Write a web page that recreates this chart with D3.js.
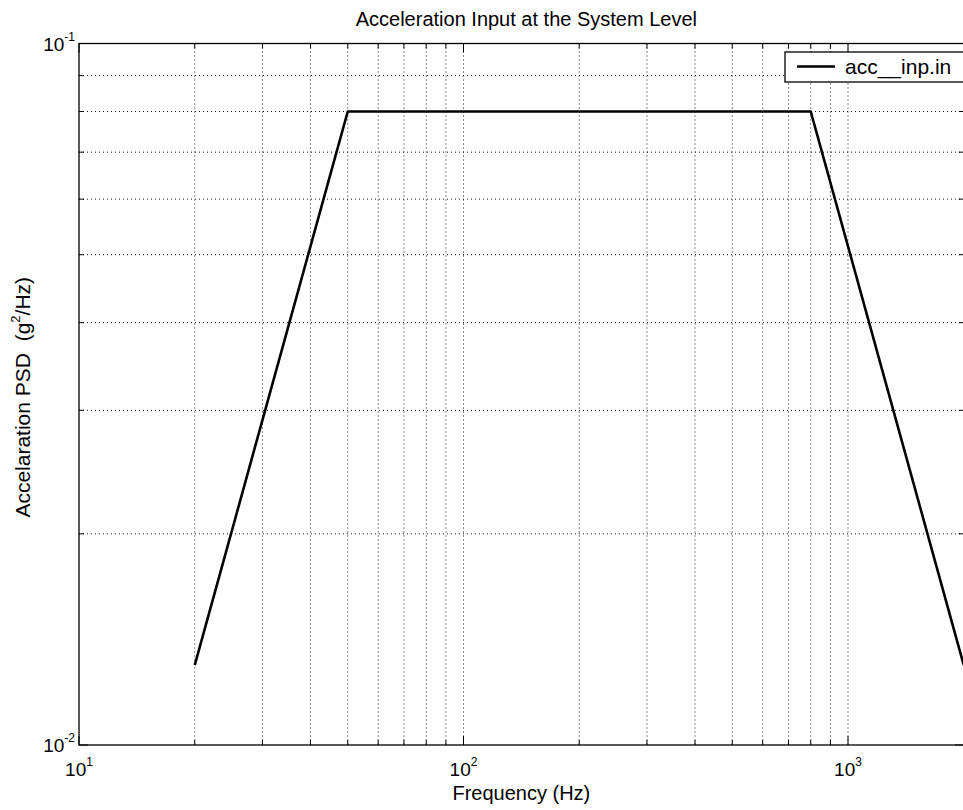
<!DOCTYPE html>
<html>
<head>
<meta charset="utf-8">
<script src="https://cdn.jsdelivr.net/npm/d3@7"></script>
<style>
  body { margin: 0; background: #fff; }
  svg { display: block; font-family: "Liberation Sans", Arial, sans-serif; }
</style>
</head>
<body>
<svg></svg>
<script>
// ---- data ----
const freqHz = [20, 50, 800, 2000];
const psdG2Hz = [0.013, 0.08, 0.08, 0.013];
const seriesName = "acc__inp.in";

const xMajorTicks = [10, 100, 1000];
const xMajorExp = ["1", "2", "3"];
const yMajorTicks = [0.01, 0.1];
const yMajorExp = ["-2", "-1"];

const titleText = "Acceleration Input at the System Level";
const xLabelText = "Frequency (Hz)";

// ---- svg ----
const svgW = 963, svgH = 810;
const plotLeft = 79, plotTop = 43.5, plotBottom = 745;

const svg = d3.select("svg")
    .attr("width", svgW)
    .attr("height", svgH);

const xScale = d3.scaleLog()
    .domain([10, 2000])
    .range([plotLeft, plotLeft + 384.5 * Math.log10(200)]);

const yScale = d3.scaleLog()
    .domain([0.01, 0.1])
    .range([plotBottom, plotTop]);

const plotRight = xScale.range()[1];

// minor values = every 1..9 x 10^n inside the domain
const xAll = xScale.ticks(20);
const yAll = yScale.ticks(20);

// ---- grid (dotted) ----
const grid = svg.append("g");
grid.selectAll("line.gx")
    .data(xAll.filter(v => v > 10 && v < 2000))
    .enter()
    .append("line")
    .attr("x1", d => xScale(d)).attr("x2", d => xScale(d))
    .attr("y1", plotTop).attr("y2", plotBottom)
    .attr("stroke", "#111").attr("stroke-width", 1)
    .attr("stroke-dasharray", "1,3");

grid.selectAll("line.gy")
    .data(yAll.filter(v => v > 0.01 && v < 0.1))
    .enter()
    .append("line")
    .attr("y1", d => yScale(d)).attr("y2", d => yScale(d))
    .attr("x1", plotLeft).attr("x2", plotRight)
    .attr("stroke", "#111").attr("stroke-width", 1)
    .attr("stroke-dasharray", "1,3");

// ---- axes (inward ticks, no default labels) ----
const isMajor = v => Math.abs(Math.log10(v) - Math.round(Math.log10(v))) < 1e-9;

function tickLen(v) { return isMajor(v) ? 9 : 5; }

const axes = svg.append("g");
// bottom + top ticks
for (const v of xAll) {
    const x = xScale(v);
    axes.append("line").attr("x1", x).attr("x2", x)
        .attr("y1", plotBottom).attr("y2", plotBottom - tickLen(v))
        .attr("stroke", "#000");
    axes.append("line").attr("x1", x).attr("x2", x)
        .attr("y1", plotTop).attr("y2", plotTop + tickLen(v))
        .attr("stroke", "#000");
}
// left + right ticks
for (const v of yAll) {
    const y = yScale(v);
    axes.append("line").attr("y1", y).attr("y2", y)
        .attr("x1", plotLeft).attr("x2", plotLeft + tickLen(v))
        .attr("stroke", "#000");
    axes.append("line").attr("y1", y).attr("y2", y)
        .attr("x1", plotRight).attr("x2", plotRight - tickLen(v))
        .attr("stroke", "#000");
}
// box
axes.append("rect")
    .attr("x", plotLeft).attr("y", plotTop)
    .attr("width", plotRight - plotLeft).attr("height", plotBottom - plotTop)
    .attr("fill", "none").attr("stroke", "#000").attr("stroke-width", 1.3);

// ---- tick labels 10^n ----
xMajorTicks.forEach((v, i) => {
    const t = svg.append("text")
        .attr("x", xScale(v)).attr("y", 776)
        .attr("text-anchor", "middle")
        .attr("font-size", 19);
    t.append("tspan").text("10");
    t.append("tspan").attr("font-size", 12).attr("dy", -10).text(xMajorExp[i]);
});

yMajorTicks.forEach((v, i) => {
    const t = svg.append("text")
        .attr("x", 75).attr("y", yScale(v) + 7)
        .attr("text-anchor", "end")
        .attr("font-size", 19);
    t.append("tspan").text("10");
    t.append("tspan").attr("font-size", 12).attr("dy", -10).text(yMajorExp[i]);
});

// ---- titles ----
svg.append("text")
    .attr("x", (plotLeft + plotRight) / 2 + 5).attr("y", 26)
    .attr("text-anchor", "middle")
    .attr("font-size", 20)
    .text(titleText);

svg.append("text")
    .attr("x", (plotLeft + plotRight) / 2).attr("y", 800)
    .attr("text-anchor", "middle")
    .attr("font-size", 20)
    .text(xLabelText);

const yl = svg.append("text")
    .attr("transform", `translate(30, ${(plotTop + plotBottom) / 2 + 3}) rotate(-90)`)
    .attr("text-anchor", "middle")
    .attr("font-size", 21)
    .style("white-space", "pre");
yl.append("tspan").text("Accelaration PSD  (g");
yl.append("tspan").attr("font-size", 13).attr("dy", -10).text("2");
yl.append("tspan").attr("dy", 10).text("/Hz)");

// ---- curve ----
const pts = freqHz.map((f, i) => [f, psdG2Hz[i]]);
svg.append("path")
    .datum(pts)
    .attr("d", d3.line().x(d => xScale(d[0])).y(d => yScale(d[1])))
    .attr("fill", "none")
    .attr("stroke", "#000")
    .attr("stroke-width", 2.6)
    .attr("stroke-linejoin", "round");

// ---- legend (runs off the right edge, as in the source) ----
const lg = svg.append("g");
lg.append("rect")
    .attr("x", 785).attr("y", 52)
    .attr("width", 220).attr("height", 30)
    .attr("fill", "#fff").attr("stroke", "#000").attr("stroke-width", 1.3);
lg.append("line")
    .attr("x1", 797).attr("x2", 835)
    .attr("y1", 66.5).attr("y2", 66.5)
    .attr("stroke", "#000").attr("stroke-width", 2.6);
lg.append("text")
    .attr("x", 845).attr("y", 74)
    .attr("font-size", 21)
    .text(seriesName);
</script>
</body>
</html>
